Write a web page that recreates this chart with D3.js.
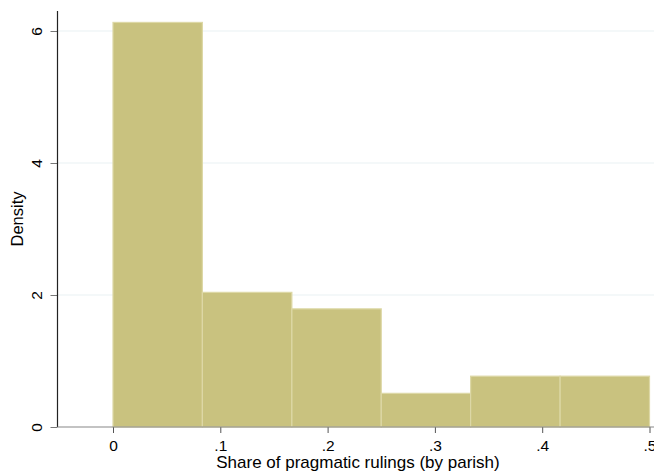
<!DOCTYPE html>
<html><head><meta charset="utf-8">
<script src="https://cdn.jsdelivr.net/npm/d3@7"></script>
<style>body{margin:0;background:#fff}svg{display:block;font-family:"Liberation Sans",Arial,sans-serif}</style>
</head><body><svg id="c" width="654" height="473"></svg>
<script>
const binEdges = [0, 0.0833, 0.1667, 0.25, 0.3333, 0.4167, 0.5];
const densities = [6.13, 2.04, 1.79, 0.51, 0.77, 0.77];
const xTicks = [0, 0.1, 0.2, 0.3, 0.4, 0.5];
const xTickLabels = ["0", ".1", ".2", ".3", ".4", ".5"];
const yTicks = [0, 2, 4, 6];
const xTitle = "Share of pragmatic rulings (by parish)";
const yTitle = "Density";

const svg = d3.select("#c");
const pLeft = 57.5, pRight = 654, pTop = 11, pBottom = 427;
const x = d3.scaleLinear().domain([0, 0.5]).range([113, 649.5]);
const y = d3.scaleLinear().domain([0, 6]).range([pBottom, 31]);

// gridlines
svg.append("g").selectAll("line").data(yTicks.filter(d => d > 0)).join("line")
  .attr("x1", pLeft).attr("x2", pRight).attr("y1", d => y(d)).attr("y2", d => y(d))
  .attr("stroke", "#eaf1f3").attr("stroke-width", 1.2);

// bars
const bins = densities.map((d, i) => ({x0: binEdges[i], x1: binEdges[i + 1], v: d}));
svg.append("g").selectAll("rect").data(bins).join("rect")
  .attr("x", d => x(d.x0)).attr("width", d => x(d.x1) - x(d.x0))
  .attr("y", d => y(d.v)).attr("height", d => y(0) - y(d.v))
  .attr("fill", "#c9c27f").attr("stroke", "#ddd8a6").attr("stroke-width", 1.2);

// y axis
const yAxis = d3.axisLeft(y).tickValues(yTicks).tickSize(7).tickPadding(8).tickFormat(d3.format("d"));
const gy = svg.append("g").attr("transform", `translate(${pLeft},0)`).call(yAxis);
gy.select(".domain").remove();
gy.selectAll(".tick line").attr("stroke", "#777");
gy.selectAll(".tick text").attr("font-size", 15.5).attr("fill", "#000")
  .attr("text-anchor", "middle").attr("transform", "rotate(-90)")
  .attr("x", 0).attr("y", -21).attr("dy", "0.35em");
svg.append("line").attr("x1", pLeft).attr("x2", pLeft).attr("y1", pTop).attr("y2", pBottom)
  .attr("stroke", "#222").attr("stroke-width", 1.2);

// x axis
const xAxis = d3.axisBottom(x).tickValues(xTicks).tickSize(6).tickPadding(7)
  .tickFormat((d, i) => xTickLabels[i]);
const gx = svg.append("g").attr("transform", `translate(0,${pBottom})`).call(xAxis);
gx.select(".domain").remove();
gx.selectAll(".tick line").attr("stroke", "#555");
gx.selectAll(".tick text").attr("font-size", 15.5).attr("fill", "#000");
svg.append("line").attr("x1", pLeft).attr("x2", pRight).attr("y1", pBottom).attr("y2", pBottom)
  .attr("stroke", "#888").attr("stroke-width", 1.2);

// titles
svg.append("text").attr("x", 358).attr("y", 468).attr("text-anchor", "middle")
  .attr("font-size", 17).text(xTitle);
svg.append("text").attr("transform", `translate(23,219) rotate(-90)`).attr("text-anchor", "middle")
  .attr("font-size", 16.5).text(yTitle);
</script></body></html>
